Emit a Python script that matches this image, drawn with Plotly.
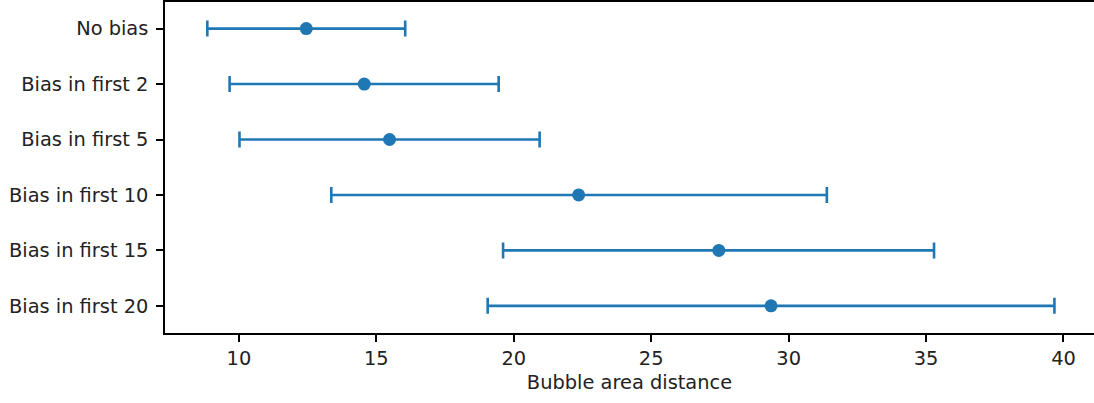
import plotly.graph_objects as go

categories = ["No bias", "Bias in first 2", "Bias in first 5", "Bias in first 10", "Bias in first 15", "Bias in first 20"]
means = [12.45, 14.56, 15.48, 22.36, 27.46, 29.36]
lower = [8.85, 9.66, 10.02, 13.36, 19.61, 19.05]
upper = [16.05, 19.45, 20.94, 31.39, 35.29, 39.67]

err_plus = [u - m for u, m in zip(upper, means)]
err_minus = [m - l for m, l in zip(means, lower)]
ypos = list(range(len(categories)))

color = "#1f77b4"
fig = go.Figure()
fig.add_trace(go.Scatter(
    x=means, y=ypos, mode="markers",
    marker=dict(color=color, size=13),
    error_x=dict(type="data", symmetric=False, array=err_plus, arrayminus=err_minus,
                 color=color, thickness=2.6, width=8),
    showlegend=False,
))

font = dict(family="DejaVu Sans", size=19.4, color="#222222")
fig.update_layout(
    width=1094, height=403,
    margin=dict(l=165, r=0, t=2, b=70),
    paper_bgcolor="white", plot_bgcolor="white",
    font=font,
    xaxis=dict(range=[7.31, 41.11], tickvals=[10, 15, 20, 25, 30, 35, 40],
               showgrid=False, zeroline=False, showline=True, mirror=True,
               linecolor="black", linewidth=1.5, ticks="outside", ticklen=7,
               tickwidth=1.5, tickcolor="black", tickfont=font,
               title=dict(text="Bubble area distance", font=font, standoff=6)),
    yaxis=dict(range=[5.49, -0.48], tickvals=ypos, ticktext=categories,
               showgrid=False, zeroline=False, showline=True,
               linecolor="black", linewidth=1.5, ticks="outside", ticklen=7,
               tickwidth=1.5, tickcolor="black", tickfont=font, ticklabelstandoff=4),
)
fig.write_html("out.html")
